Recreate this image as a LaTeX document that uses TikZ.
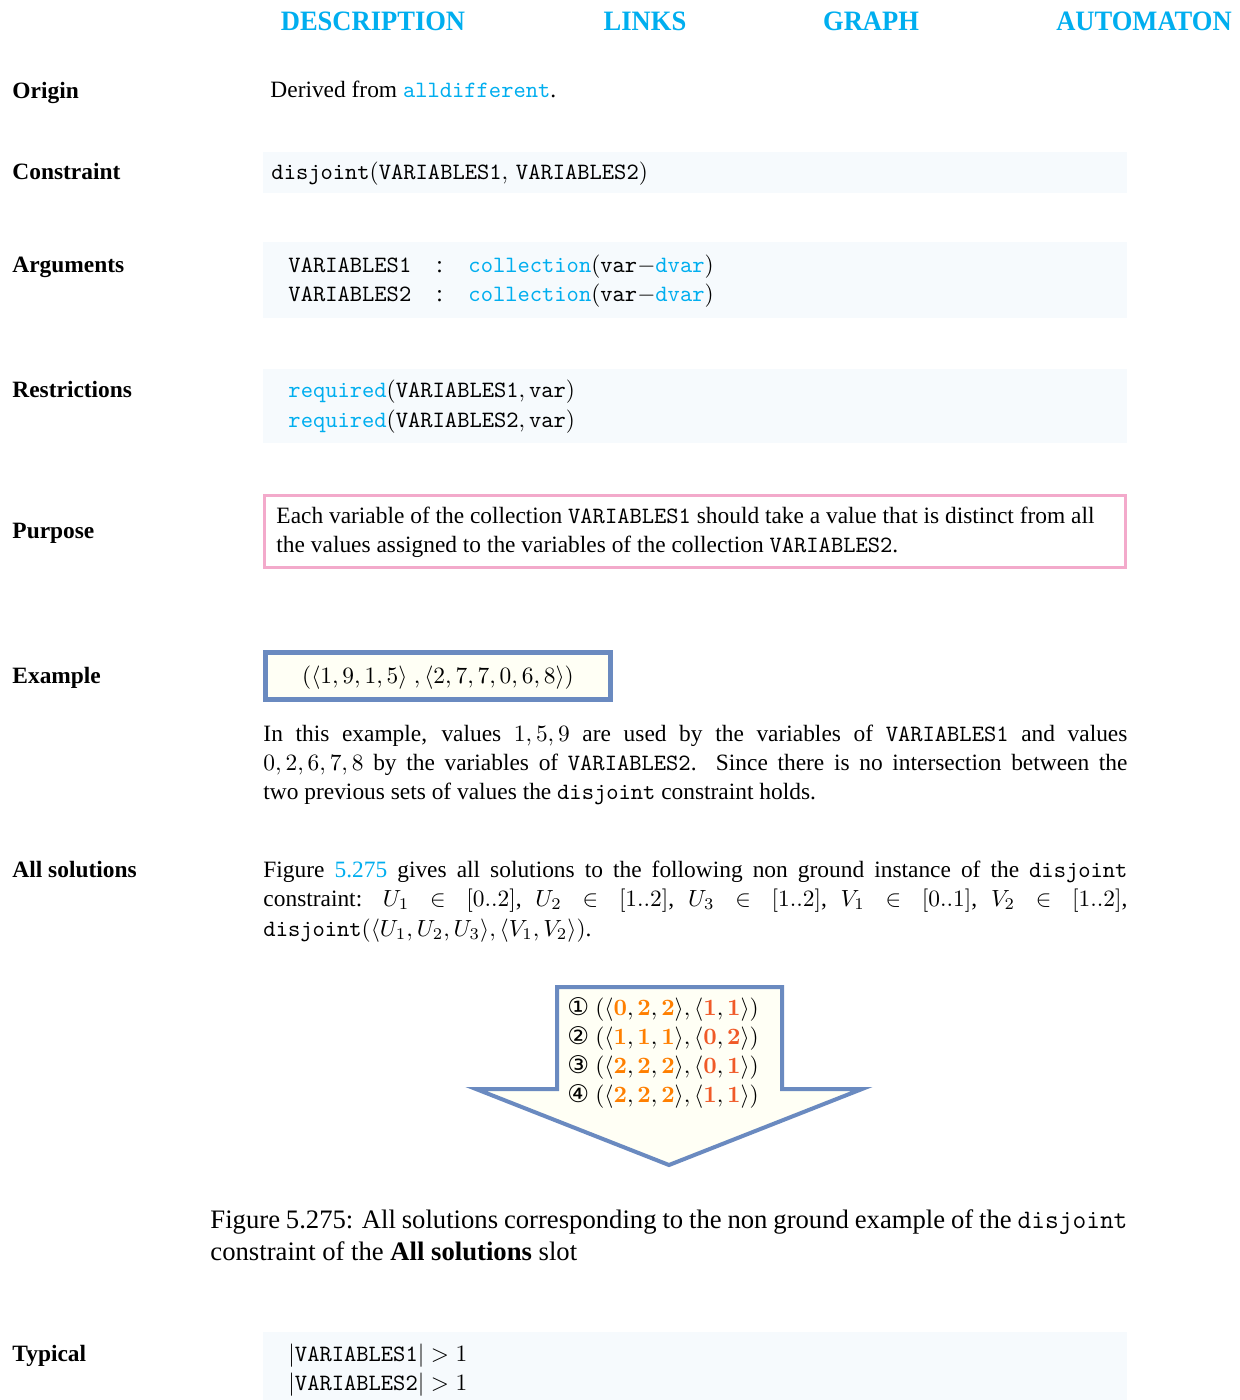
\documentclass[tikz,border=0pt]{standalone}
\usepackage[no-math]{fontspec}
\setmainfont{Liberation Serif}
\newfontfamily\bodyfont{Liberation Serif}
\newfontfamily\hdfont[FakeStretch=0.945]{Liberation Serif}
\newfontfamily\symf{DejaVu Sans}
\newlength\pxu \setlength\pxu{0.4274pt}
\definecolor{hdr}{RGB}{0,174,239}
\definecolor{boxbg}{RGB}{246,250,253}
\definecolor{pinkb}{RGB}{243,170,203}
\definecolor{blueb}{RGB}{106,138,192}
\definecolor{ivoryf}{RGB}{255,255,245}
\definecolor{solA}{RGB}{255,127,0}
\definecolor{solB}{RGB}{240,90,40}
\newcommand\kw[1]{\textcolor{hdr}{\texttt{#1}}}
\newcommand\solA[1]{\textcolor{solA}{\mathbf{#1}}}
\newcommand\solB[1]{\textcolor{solB}{\mathbf{#1}}}
\newcommand\jline[1]{\hbox to 864\pxu{#1}}
\tikzset{
  lbl/.style={anchor=base west, inner sep=0pt, font=\bfseries},
  txt/.style={anchor=base west, inner sep=0pt, font=\bodyfont},
  hd/.style={anchor=base, inner sep=0pt, font=\hdfont\bfseries\large, text=hdr},
  bgbox/.style={fill=boxbg},
  sol/.style={anchor=base west, inner sep=0pt, font=\bodyfont\fontsize{10.4}{12}\selectfont},
  captxt/.style={anchor=base west, inner sep=0pt, font=\bodyfont\fontsize{11.4}{13.7}\selectfont},
}
\begin{document}
\begin{tikzpicture}[x=\pxu,y=-\pxu]
\useasboundingbox (0,0) rectangle (1240,1400);
\fill[white] (0,0) rectangle (1240,1400);
% header
\node[hd] (h1) at (373,31) {DESCRIPTION};
\node[hd] (h2) at (645,31) {LINKS};
\node[hd] (h3) at (871,31) {GRAPH};
\node[hd] (h4) at (1144,31) {AUTOMATON};
% labels
\node[lbl] (lo) at (12,99) {Origin};
\node[lbl] (lc) at (12,180) {Constraint};
\node[lbl] (la) at (12,273) {Arguments};
\node[lbl] (lr) at (12,397) {Restrictions};
\node[lbl] (lp) at (12,538) {Purpose};
\node[lbl] (le) at (12,683) {Example};
\node[lbl] (ls) at (12,877) {All solutions};
\node[lbl] (lt) at (12,1361) {Typical};
% origin
\node[txt] (orig) at (270,98) {Derived from \kw{alldifferent}.};
% constraint
\fill[bgbox] (263,152) rectangle (1127,193);
\node[txt] (cons) at (271,180) {\texttt{disjoint}$(\texttt{VARIABLES1},\,\texttt{VARIABLES2})$};
% arguments
\fill[bgbox] (263,242) rectangle (1127,318);
\node[txt] (a1n) at (288,273) {\texttt{VARIABLES1}};
\node[txt] (a1c) at (436,273) {:};
\node[txt] (a1t) at (468,273) {\kw{collection}$(\texttt{var}{-}\kw{dvar})$};
\node[txt] (a2n) at (288,302) {\texttt{VARIABLES2}};
\node[txt] (a2c) at (436,302) {:};
\node[txt] (a2t) at (468,302) {\kw{collection}$(\texttt{var}{-}\kw{dvar})$};
% restrictions
\fill[bgbox] (263,369) rectangle (1127,443);
\node[txt] (r1) at (288,398) {\kw{required}$(\texttt{VARIABLES1},\texttt{var})$};
\node[txt] (r2) at (288,427) {\kw{required}$(\texttt{VARIABLES2},\texttt{var})$};
% purpose
\draw[pinkb, line width=3\pxu] (264.5,495.5) rectangle (1125.5,567.5);
\node[txt] (p1) at (276,523) {Each variable of the collection \texttt{VARIABLES1} should take a value that is distinct from all};
\node[txt] (p2) at (276,552) {the values assigned to the variables of the collection \texttt{VARIABLES2}.};
% example
\node[draw=blueb, fill=ivoryf, line width=5\pxu, minimum width=345\pxu, minimum height=47\pxu, inner sep=0pt] (exb) at (438,676) {};
\node[txt, anchor=base] (ext) at (438,683) {$(\langle 1,9,1,5\rangle\;,\langle 2,7,7,0,6,8\rangle)$};
\node[txt] (e1) at (263,741) {\jline{In this example, values $1,5,9$ are used by the variables of \texttt{VARIABLES1} and values}};
\node[txt] (e2) at (263,770) {\jline{$0,2,6,7,8$ by the variables of \texttt{VARIABLES2}. Since there is no intersection between the}};
\node[txt] (e3) at (263,799) {two previous sets of values the \texttt{disjoint} constraint holds.};
% all solutions
\node[txt] (s1) at (263,877) {\jline{Figure \textcolor{hdr}{5.275} gives all solutions to the following non ground instance of the \texttt{disjoint}}};
\node[txt] (s2) at (263,906) {\jline{constraint: $U_1 \in [0..2]$, $U_2 \in [1..2]$, $U_3 \in [1..2]$, $V_1 \in [0..1]$, $V_2 \in [1..2]$,}};
\node[txt] (s3) at (263,936) {\texttt{disjoint}$(\langle U_1,U_2,U_3\rangle,\langle V_1,V_2\rangle)$.};
% arrow
\draw[blueb, fill=ivoryf, line width=4\pxu, line join=miter]
  (557,987) -- (782,987) -- (782,1089) -- (862,1089) -- (669,1165) -- (476,1089) -- (557,1089) -- cycle;
\node[sol] (v1) at (567,1015) {{\symf ①} $(\langle\solA0,\solA2,\solA2\rangle,\langle\solB1,\solB1\rangle)$};
\node[sol] (v2) at (567,1044) {{\symf ②} $(\langle\solA1,\solA1,\solA1\rangle,\langle\solB0,\solB2\rangle)$};
\node[sol] (v3) at (567,1073) {{\symf ③} $(\langle\solA2,\solA2,\solA2\rangle,\langle\solB0,\solB1\rangle)$};
\node[sol] (v4) at (567,1102) {{\symf ④} $(\langle\solA2,\solA2,\solA2\rangle,\langle\solB1,\solB1\rangle)$};
% caption
\node[captxt] (c1) at (210,1228) {\hbox to 917\pxu{Figure 5.275: All solutions corresponding to the non ground example of the \texttt{disjoint}}};
\node[captxt] (c2) at (210,1260) {constraint of the \textbf{All solutions} slot};
% typical
\fill[bgbox] (263,1332) rectangle (1127,1400);
\node[txt] (t1) at (288,1361) {$|\texttt{VARIABLES1}|>1$};
\node[txt] (t2) at (288,1390) {$|\texttt{VARIABLES2}|>1$};
\end{tikzpicture}
\end{document}
